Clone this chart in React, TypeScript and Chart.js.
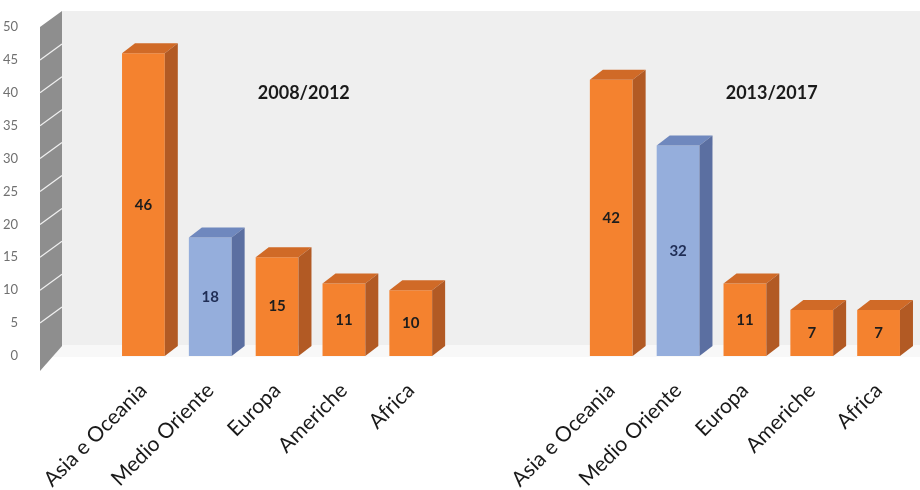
import React, { useEffect, useRef } from "react";
import { Chart, registerables } from "chart.js";

Chart.register(...registerables);

const regions = ["Asia e Oceania", "Medio Oriente", "Europa", "Americhe", "Africa"];
const values2008 = [46, 18, 15, 11, 10];
const values2013 = [42, 32, 11, 7, 7];
const groupTitles = ["2008/2012", "2013/2017"];
const highlightRegion = "Medio Oriente";

const labels = [...regions, "", "", ...regions];
const values = [...values2008, null, null, ...values2013];

const ORANGE = { front: "#F4822F", top: "#D06A27", side: "#B25A24", text: "#1d1d1d" };
const BLUE = { front: "#95AEDC", top: "#6F88BE", side: "#5B6FA1", text: "#1f2d55" };
const DX = 13;
const DY = 10;

const pal = (i: number) => (labels[i] === highlightRegion ? BLUE : ORANGE);

const threeD = {
  id: "threeD",
  beforeDatasetsDraw(chart: any) {
    const { ctx, chartArea, scales } = chart;
    const y = scales.y;
    const L = chartArea.left;
    const wallL = L - 70;
    const wallR = L - 48;
    const y0 = y.getPixelForValue(0);
    const y50 = y.getPixelForValue(50);
    ctx.save();
    ctx.fillStyle = "#EFEFEF";
    ctx.fillRect(wallR, y50 - 16, chart.width - wallR, y0 - 11 - (y50 - 16));
    ctx.fillStyle = "#F8F8F8";
    ctx.beginPath();
    ctx.moveTo(wallR, y0 - 11);
    ctx.lineTo(chart.width, y0 - 11);
    ctx.lineTo(chart.width, y0 + 1);
    ctx.lineTo(wallL + 10, y0 + 1);
    ctx.closePath();
    ctx.fill();
    ctx.fillStyle = "#8E8E8E";
    ctx.beginPath();
    ctx.moveTo(wallL, y50);
    ctx.lineTo(wallR, y50 - 16);
    ctx.lineTo(wallR, y0 - 10);
    ctx.lineTo(wallL, y0 + 15);
    ctx.closePath();
    ctx.fill();
    ctx.strokeStyle = "#F0F0F0";
    ctx.lineWidth = 1.2;
    for (let v = 5; v < 50; v += 5) {
      const py = y.getPixelForValue(v);
      ctx.beginPath();
      ctx.moveTo(wallL, py);
      ctx.lineTo(wallR, py - 16);
      ctx.stroke();
    }
    ctx.restore();
  },
  afterDatasetsDraw(chart: any) {
    const { ctx, scales } = chart;
    const meta = chart.getDatasetMeta(0);
    ctx.save();
    meta.data.forEach((bar: any, i: number) => {
      if (values[i] == null) return;
      const p = pal(i);
      const { x, y, base, width } = bar.getProps(["x", "y", "base", "width"], true);
      const l = x - width / 2;
      const r = x + width / 2;
      ctx.fillStyle = p.top;
      ctx.beginPath();
      ctx.moveTo(l, y);
      ctx.lineTo(l + DX, y - DY);
      ctx.lineTo(r + DX, y - DY);
      ctx.lineTo(r, y);
      ctx.closePath();
      ctx.fill();
      ctx.fillStyle = p.side;
      ctx.beginPath();
      ctx.moveTo(r, y);
      ctx.lineTo(r + DX, y - DY);
      ctx.lineTo(r + DX, base - DY);
      ctx.lineTo(r, base);
      ctx.closePath();
      ctx.fill();
      ctx.fillStyle = p.text;
      ctx.font = "bold 15px Lato";
      ctx.textAlign = "center";
      ctx.textBaseline = "middle";
      ctx.fillText(String(values[i]), x, (y + base) / 2);
    });
    ctx.fillStyle = "#1a1a1a";
    ctx.font = "bold 18px Lato";
    ctx.textAlign = "center";
    ctx.textBaseline = "middle";
    const ty = scales.y.getPixelForValue(40);
    ctx.fillText(groupTitles[0], scales.x.getPixelForValue(2.4), ty);
    ctx.fillText(groupTitles[1], scales.x.getPixelForValue(9.4), ty);
    ctx.restore();
  },
};

export default function App() {
  const ref = useRef<HTMLCanvasElement | null>(null);
  useEffect(() => {
    if (!ref.current) return;
    const chart = new Chart(ref.current, {
      type: "bar",
      data: {
        labels,
        datasets: [
          {
            data: values as any,
            backgroundColor: labels.map((_, i) => pal(i).front),
            barPercentage: 0.64,
            categoryPercentage: 1,
          },
        ],
      },
      options: {
        responsive: false,
        animation: false,
        layout: { padding: { top: 27, right: 8, left: 0, bottom: 0 } },
        plugins: { legend: { display: false }, tooltip: { enabled: false } },
        scales: {
          x: {
            grid: { display: false },
            border: { display: false },
            ticks: {
              color: "#1a1a1a",
              font: { family: "Lato", size: 21 },
              minRotation: 45,
              maxRotation: 45,
              autoSkip: false,
              padding: 14,
            },
            afterFit: (s: any) => {
              s.height = 134;
              s.paddingLeft = 0;
              s.paddingRight = 0;
            },
          },
          y: {
            min: 0,
            max: 50,
            grid: { display: false },
            border: { display: false },
            ticks: {
              stepSize: 5,
              color: "#707070",
              font: { family: "Lato", size: 13 },
              padding: 84,
            },
            afterFit: (s: any) => {
              s.width = 110;
              s.paddingTop = 0;
              s.paddingBottom = 0;
            },
          },
        },
      },
      plugins: [threeD],
    });
    return () => chart.destroy();
  }, []);
  return (
    <div style={{ position: "absolute", left: 0, top: 0, width: 920, height: 490, background: "#fff" }}>
      <canvas ref={ref} width={920} height={490} style={{ display: "block" }} />
    </div>
  );
}
